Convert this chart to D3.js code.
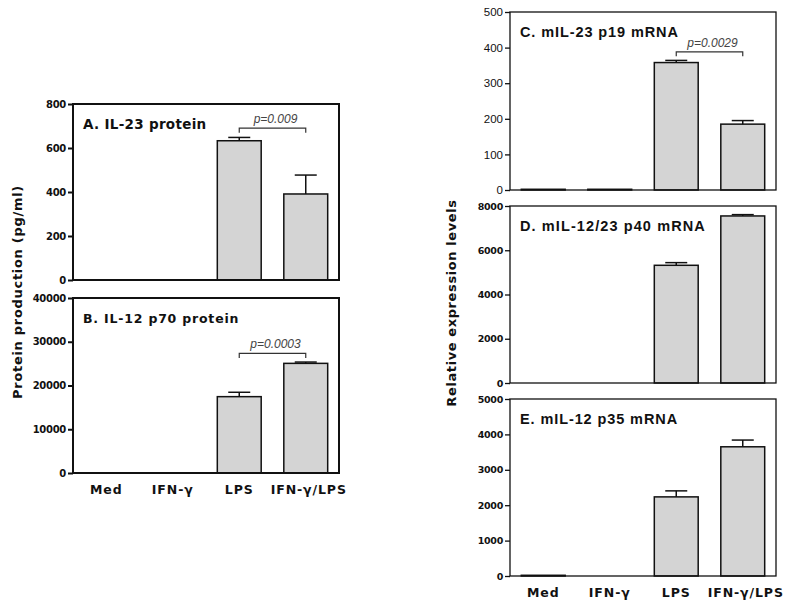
<html>
<head>
<script src="https://cdn.jsdelivr.net/npm/d3@7"></script>
<style>
  body { margin: 0; background: #fff; }
  text { fill: #111; }
</style>
</head>
<body>
<div id="chartContainer"></div>
<script type="text/javascript">
// categories shared by all five panels
var categories = ["Med", "IFN-\u03b3", "LPS", "IFN-\u03b3/LPS"];

// panel A: IL-23 protein (pg/ml)
var aValues = [0, 0, 633, 391];
var aErrors = [0, 0, 15, 86];
var aTicks = [0, 200, 400, 600, 800];

// panel B: IL-12 p70 protein (pg/ml)
var bValues = [0, 0, 17450, 25060];
var bErrors = [0, 0, 1000, 300];
var bTicks = [0, 10000, 20000, 30000, 40000];

// panel C: mIL-23 p19 mRNA
var cValues = [2, 2, 358, 185];
var cErrors = [0, 0, 6, 10];
var cTicks = [0, 100, 200, 300, 400, 500];

// panel D: mIL-12/23 p40 mRNA
var dValues = [0, 0, 5320, 7550];
var dErrors = [0, 0, 120, 60];
var dTicks = [0, 2000, 4000, 6000, 8000];

// panel E: mIL-12 p35 mRNA
var eValues = [20, 0, 2235, 3650];
var eErrors = [0, 0, 170, 190];
var eTicks = [0, 1000, 2000, 3000, 4000, 5000];

var width = 800;
var height = 607;

var svg = d3.select("#chartContainer").append("svg")
    .attr("width", width)
    .attr("height", height);

var boldFont = "DejaVu Sans, Verdana, sans-serif";
var plainFont = "Liberation Sans, Arial, sans-serif";

var panels = [
  { title: "A. IL-23 protein", values: aValues, errors: aErrors, ticks: aTicks,
    box: { x: 73, y: 104, w: 266, h: 176 }, stroke: 2, tickFont: boldFont, tickWeight: "bold", tickSize: "10px",
    titleFont: boldFont, titleSize: "13.5px", titleSpacing: "0.3px",
    p: { text: "p=0.009", value: 690 }, xLabels: false },
  { title: "B. IL-12 p70 protein", values: bValues, errors: bErrors, ticks: bTicks,
    box: { x: 73, y: 298, w: 266, h: 175 }, stroke: 2, tickFont: boldFont, tickWeight: "bold", tickSize: "10px",
    titleFont: boldFont, titleSize: "12.5px", titleSpacing: "0.8px",
    p: { text: "p=0.0003", value: 27330 }, xLabels: true },
  { title: "C. mIL-23 p19 mRNA", values: cValues, errors: cErrors, ticks: cTicks,
    box: { x: 510, y: 12, w: 266, h: 178 }, stroke: 1.3, tickFont: plainFont, tickWeight: "normal", tickSize: "11.5px",
    titleFont: plainFont, titleSize: "14.5px", titleSpacing: "0.9px",
    p: { text: "p=0.0029", value: 388 }, xLabels: false },
  { title: "D. mIL-12/23 p40 mRNA", values: dValues, errors: dErrors, ticks: dTicks,
    box: { x: 510, y: 206, w: 266, h: 177 }, stroke: 1.3, tickFont: boldFont, tickWeight: "bold", tickSize: "9.5px",
    titleFont: plainFont, titleSize: "14.5px", titleSpacing: "1.1px",
    p: null, xLabels: false },
  { title: "E. mIL-12 p35 mRNA", values: eValues, errors: eErrors, ticks: eTicks,
    box: { x: 510, y: 399, w: 266, h: 177 }, stroke: 1.3, tickFont: boldFont, tickWeight: "bold", tickSize: "9.5px",
    titleFont: plainFont, titleSize: "14.5px", titleSpacing: "0.9px",
    p: null, xLabels: true }
];

panels.forEach(function (pn) {
  var b = pn.box;
  var x = d3.scaleBand().domain(categories)
      .range([b.x, b.x + b.w])
      .paddingInner(0.34).paddingOuter(0.17);
  var y = d3.scaleLinear()
      .domain([0, d3.max(pn.ticks)])
      .range([b.y + b.h, b.y]);

  var g = svg.append("g");
  var rows = categories.map(function (c, i) {
    return { cat: c, v: pn.values[i], e: pn.errors[i] };
  });

  // bars
  g.selectAll("rect.bar")
    .data(rows)
    .enter()
    .append("rect")
      .attr("class", "bar")
      .attr("x", function (d) { return x(d.cat); })
      .attr("y", function (d) { return y(d.v); })
      .attr("width", x.bandwidth())
      .attr("height", function (d) { return y(0) - y(d.v); })
      .style("fill", "#d4d4d4")
      .style("stroke", "#111")
      .style("stroke-width", 1.5);

  // upper error bars
  var errRows = rows.filter(function (d) { return d.e > 0; });
  g.selectAll("line.err")
    .data(errRows)
    .enter()
    .append("line")
      .attr("x1", function (d) { return x(d.cat) + x.bandwidth() / 2; })
      .attr("x2", function (d) { return x(d.cat) + x.bandwidth() / 2; })
      .attr("y1", function (d) { return y(d.v); })
      .attr("y2", function (d) { return y(d.v + d.e); })
      .style("stroke", "#111").style("stroke-width", 1.5);
  g.selectAll("line.cap")
    .data(errRows)
    .enter()
    .append("line")
      .attr("x1", function (d) { return x(d.cat) + x.bandwidth() / 2 - 11; })
      .attr("x2", function (d) { return x(d.cat) + x.bandwidth() / 2 + 11; })
      .attr("y1", function (d) { return y(d.v + d.e); })
      .attr("y2", function (d) { return y(d.v + d.e); })
      .style("stroke", "#111").style("stroke-width", 1.5);

  // frame
  g.append("rect")
    .attr("x", b.x).attr("y", b.y)
    .attr("width", b.w).attr("height", b.h)
    .style("fill", "none")
    .style("stroke", "#111")
    .style("stroke-width", pn.stroke);

  // y axis
  var axis = g.append("g")
    .attr("transform", "translate(" + b.x + ",0)")
    .call(d3.axisLeft(y).tickValues(pn.ticks).tickSize(5).tickPadding(2).tickFormat(d3.format("d")));
  axis.select(".domain").remove();
  axis.selectAll("line").style("stroke", "#111").style("stroke-width", pn.stroke);
  axis.selectAll("text")
    .style("font-family", pn.tickFont)
    .style("font-weight", pn.tickWeight)
    .style("font-size", pn.tickSize)
    .style("letter-spacing", pn.tickWeight === "bold" ? "-0.3px" : "0px");

  // panel title
  g.append("text")
    .attr("x", b.x + 10)
    .attr("y", b.y + 25)
    .style("font-family", pn.titleFont)
    .style("font-weight", "bold")
    .style("font-size", pn.titleSize)
    .style("letter-spacing", pn.titleSpacing)
    .text(pn.title);

  // significance bracket
  if (pn.p) {
    var xa = x("LPS") + x.bandwidth() / 2;
    var xb = x("IFN-\u03b3/LPS") + x.bandwidth() / 2;
    var yb = y(pn.p.value);
    g.append("path")
      .attr("d", "M" + xa + "," + (yb + 4.5) + "V" + yb + "H" + xb + "V" + (yb + 4.5))
      .style("fill", "none")
      .style("stroke", "#333")
      .style("stroke-width", 1.2);
    g.append("text")
      .attr("x", (xa + xb) / 2 + 3)
      .attr("y", yb - 5)
      .attr("text-anchor", "middle")
      .style("font-family", plainFont)
      .style("font-style", "italic")
      .style("font-size", "12px")
      .style("fill", "#444")
      .text(pn.p.text);
  }

  // category labels under the bottom panels
  if (pn.xLabels) {
    g.selectAll("text.cat")
      .data(categories)
      .enter()
      .append("text")
        .attr("x", function (d, i) { return x(d) + x.bandwidth() / 2 + (i === 3 ? 3 : 0); })
        .attr("y", b.y + b.h + 21)
        .attr("text-anchor", "middle")
        .style("font-family", boldFont)
        .style("font-weight", "bold")
        .style("font-size", "12.5px")
        .style("letter-spacing", "0.9px")
        .text(function (d) { return d; });
  }
});

// shared y axis titles
svg.append("text")
  .attr("transform", "translate(22,292) rotate(-90)")
  .attr("text-anchor", "middle")
  .style("font-family", boldFont)
  .style("font-weight", "bold")
  .style("font-size", "13px")
  .style("letter-spacing", "0.7px")
  .text("Protein production (pg/ml)");

svg.append("text")
  .attr("transform", "translate(456,303) rotate(-90)")
  .attr("text-anchor", "middle")
  .style("font-family", boldFont)
  .style("font-weight", "bold")
  .style("font-size", "13px")
  .style("letter-spacing", "0.6px")
  .text("Relative expression levels");
</script>
</body>
</html>
